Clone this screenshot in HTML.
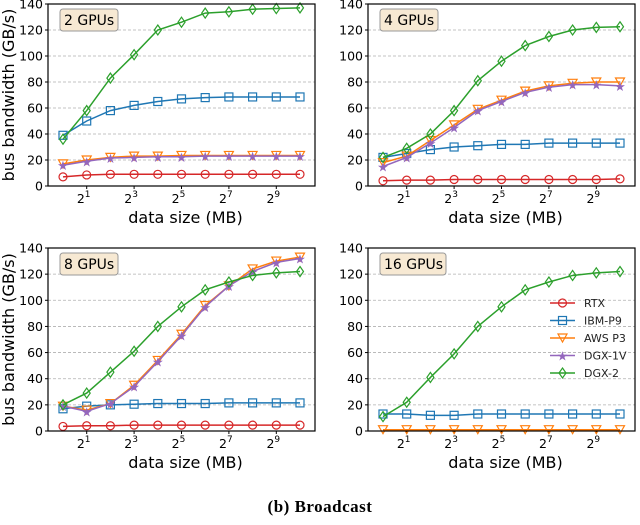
<!DOCTYPE html>
<html><head><meta charset="utf-8"><style>
body{margin:0;background:#fff;width:640px;height:520px;overflow:hidden}
svg text{font-family:"DejaVu Sans","Liberation Sans",sans-serif}
</style></head><body>
<svg id="chart" width="640" height="520" viewBox="0 0 640 520"></svg>
<script>
const exps=[0,1,2,3,4,5,6,7,8,9,10];
const yTicks=[0,20,40,60,80,100,120,140];
const xTickExps=[1,3,5,7,9];
const seriesNames=["RTX","IBM-P9","AWS P3","DGX-1V","DGX-2"];
const p1RTX=[7,8.5,9,9,9,9,9,9,9,9,9];
const p1IBM=[39,50,58,62,65,67,68,68.5,68.5,68.5,68.5];
const p1AWS=[17,20,22,23,23,23.5,23.5,23.5,23.5,23.5,23.5];
const p1DGX1=[16,19,21.5,22,22.5,22.5,23,23,23,23,23];
const p1DGX2=[36,58,83,101,120,126,133,134,136,136.5,137];
const p2RTX=[4,4.5,4.5,5,5,5,5,5,5,5,5.5];
const p2IBM=[22,25,28,30,31,32,32,33,33,33,33];
const p2AWS=[18,23,35,47,59,66,73,77,79,80,80];
const p2DGX1=[15,22,33,45,58,65,72,76,78,78,77];
const p2DGX2=[22,29,40,58,81,96,108,115,120,122,122.5];
const p3RTX=[3.5,4,4,4.5,4.5,4.5,4.5,4.5,4.5,4.5,4.5];
const p3IBM=[17,19,20,20.5,21,21,21,21.5,21.5,21.5,21.5];
const p3AWS=[19,16,21,35,54,74,96,111,124,130,133];
const p3DGX1=[19,15,21,34,53,73,95,111,122,129,132];
const p3DGX2=[20,29,45,61,80,95,108,114,119,121,122];
const p4RTX=[];
const p4IBM=[13,13,12,12,13,13,13,13,13,13,13];
const p4AWS=[1,1,1,1,1,1,1,1,1,1,1];
const p4DGX1=[];
const p4DGX2=[11,22,41,59,80,95,108,114,119,121,122];
const panelTitles=["2 GPUs","4 GPUs","8 GPUs","16 GPUs"];
const panelData=[[p1RTX,p1IBM,p1AWS,p1DGX1,p1DGX2],[p2RTX,p2IBM,p2AWS,p2DGX1,p2DGX2],[p3RTX,p3IBM,p3AWS,p3DGX1,p3DGX2],[p4RTX,p4IBM,p4AWS,p4DGX1,p4DGX2]];
const colors=["#d62728","#1f77b4","#ff7f0e","#9467bd","#2ca02c"];
const markers=["o","s","v","*","d"];
const layout=[{l:48,r:315,t:4,b:186},{l:368,r:635,t:4,b:186},{l:48,r:315,t:248,b:431},{l:368,r:635,t:248,b:431}];
const NS="http://www.w3.org/2000/svg";
const svg=document.getElementById('chart');
function mk(tag,attrs,parent){const e=document.createElementNS(NS,tag);for(const k in attrs)e.setAttribute(k,attrs[k]);(parent||svg).appendChild(e);return e;}
function marker(g,type,x,y,c){
  let e;
  if(type==="o")e=mk('circle',{cx:x,cy:y,r:4,fill:'none',stroke:c,'stroke-width':1.2},g);
  else if(type==="s")e=mk('rect',{x:x-4,y:y-4,width:8,height:8,fill:'none',stroke:c,'stroke-width':1.2},g);
  else if(type==="v")e=mk('polygon',{points:`${x-4.5},${y-4} ${x+4.5},${y-4} ${x},${y+4}`,fill:'none',stroke:c,'stroke-width':1.2},g);
  else if(type==="*")e=mk('text',{x:x,y:y+5,'text-anchor':'middle','font-size':13,fill:c},g),e.textContent="★";
  else e=mk('polygon',{points:`${x},${y-5} ${x+3.5},${y} ${x},${y+5} ${x-3.5},${y}`,fill:'none',stroke:c,'stroke-width':1.2},g);
  
  
}
layout.forEach((L,pi)=>{
  const g=mk('g',{});
  
  
  const xS=e=>L.l+15+(e-exps[0])*(L.r-L.l-30)/(exps[exps.length-1]-exps[0]);
  const yS=v=>L.b-v*(L.b-L.t)/140;
  yTicks.forEach(v=>{
    if(v>0&&v<140){const gl=mk('line',{x1:L.l,x2:L.r,y1:yS(v),y2:yS(v),stroke:'#b0b0b0','stroke-dasharray':'3,2','stroke-width':0.8},g);
    }
    mk('line',{x1:L.l-3,x2:L.l,y1:yS(v),y2:yS(v),stroke:'#000'},g);
    const t=mk('text',{x:L.l-5,y:yS(v)+4.5,'text-anchor':'end','font-size':12.5},g);t.textContent=v;
    
  });
  xTickExps.forEach(e=>{
    mk('line',{x1:xS(e),x2:xS(e),y1:L.b,y2:L.b+3,stroke:'#000'},g);
    const t=mk('text',{x:xS(e)-3,y:L.b+17,'text-anchor':'middle','font-size':12.5},g);
    t.innerHTML='2<tspan dy="-6" font-size="9">'+e+'</tspan>';
    
  });
  panelData[pi].forEach((arr,si)=>{
    if(!arr.length)return;
    const pts=arr.map((v,i)=>xS(exps[i])+','+yS(v)).join(' ');
    const pl=mk('polyline',{points:pts,fill:'none',stroke:colors[si],'stroke-width':1.5},g);
    
    
    arr.forEach((v,i)=>marker(g,markers[si],xS(exps[i]),yS(v),colors[si]));
  });
  const fr=mk('rect',{x:L.l,y:L.t,width:L.r-L.l,height:L.b-L.t,fill:'none',stroke:'#000','stroke-width':1.2},g);
  
  const bw=pi==3?66:58;
  const bx=mk('rect',{x:L.l+12,y:L.t+5,width:bw,height:22,rx:3,fill:'#f7e9d3',stroke:'#999'},g);
  
  const tt=mk('text',{x:L.l+16,y:L.t+21,'font-size':14},g);tt.textContent=panelTitles[pi];
  
  const xl=mk('text',{x:(L.l+L.r)/2+4,y:L.b+37,'text-anchor':'middle','font-size':16},g);xl.textContent='data size (MB)';
  
  if(pi%2==0){
    const yl=mk('text',{x:0,y:0,'text-anchor':'middle','font-size':16,transform:`translate(14,${(L.t+L.b)/2}) rotate(-90)`},g);
    yl.textContent='bus bandwidth (GB/s)';
    
  }
});
const lg=mk('g',{});


seriesNames.forEach((n,i)=>{
  const y=303+i*17.5;
  mk('line',{x1:550,x2:575,y1:y,y2:y,stroke:colors[i],'stroke-width':1.5},lg);
  marker(lg,markers[i],562.5,y,colors[i]);
  const t=mk('text',{x:584,y:y+4,'font-size':11,fill:'#222'},lg);t.textContent=n;
  
});
const cap=mk('text',{x:320,y:512,'text-anchor':'middle','font-size':17,'font-weight':'bold',style:'font-family:"Liberation Serif",serif;letter-spacing:0.5px'});
cap.textContent='(b)  Broadcast';


</script>
</body></html>
